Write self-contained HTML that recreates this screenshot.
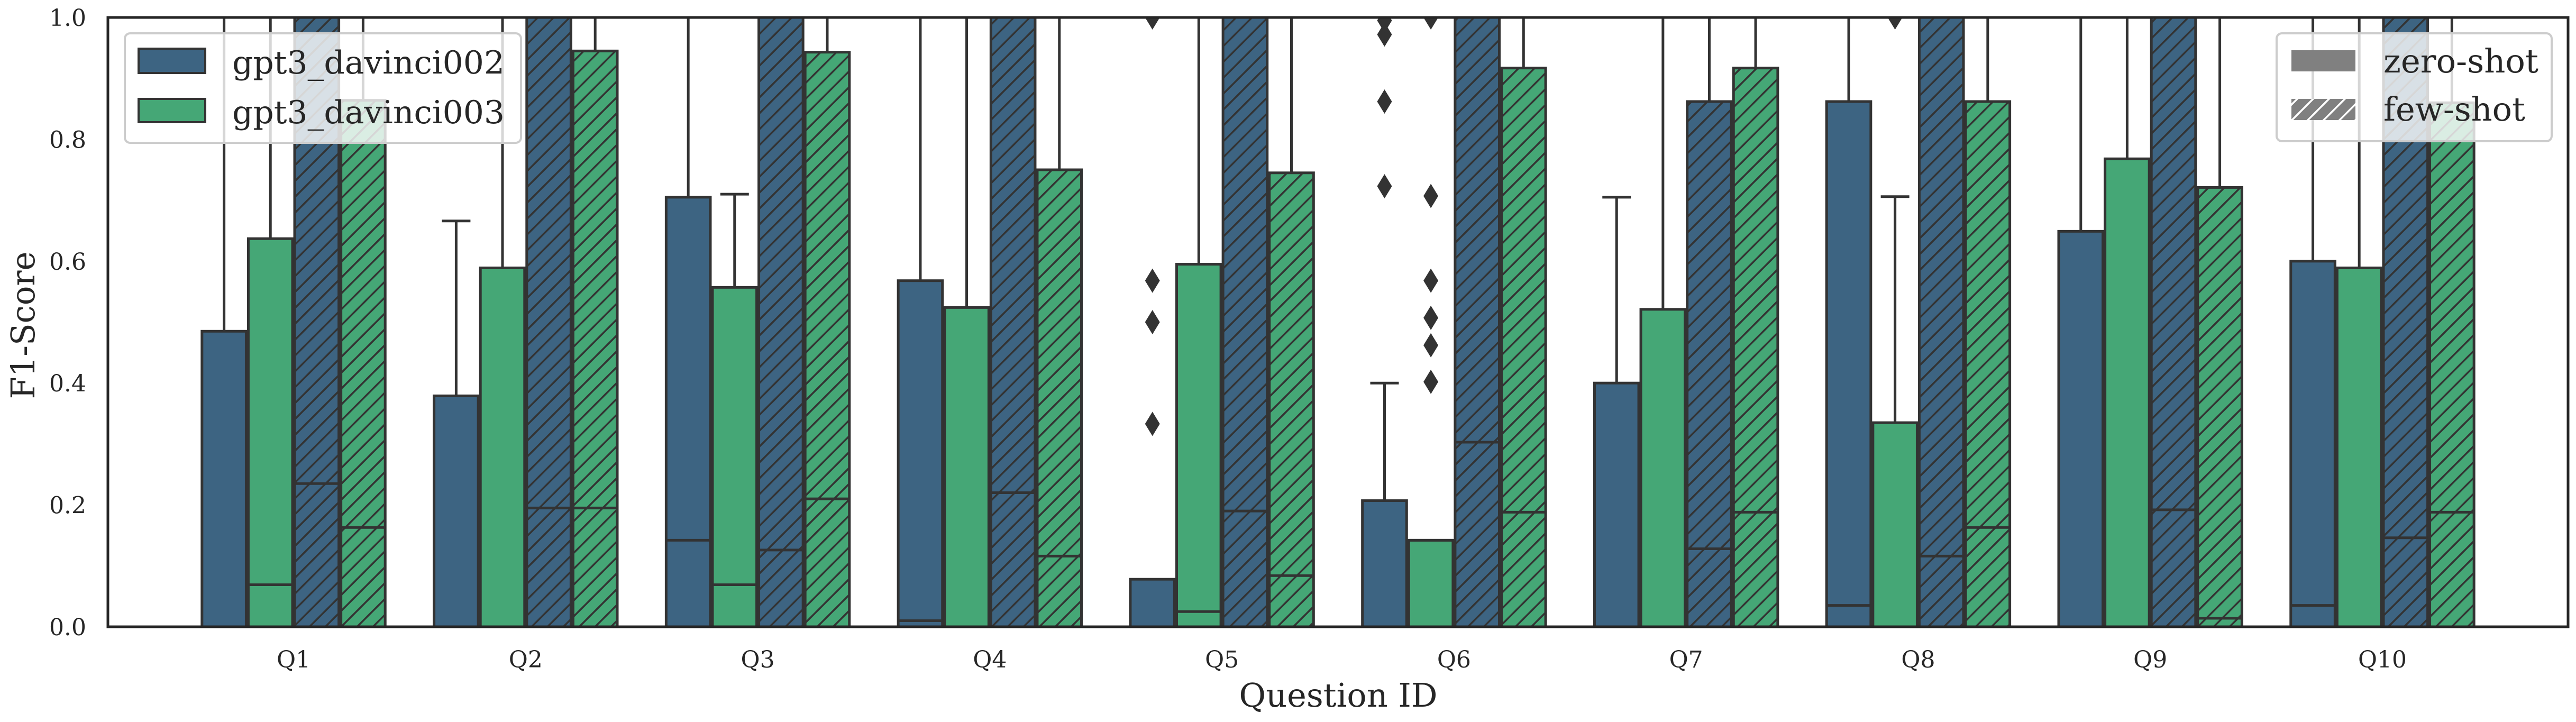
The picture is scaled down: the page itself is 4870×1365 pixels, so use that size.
<!DOCTYPE html>
<html><head><meta charset="utf-8">
<style>
html,body{margin:0;padding:0;background:#fff;}
svg{display:block;}
text{font-family:"DejaVu Serif","Liberation Serif",serif;fill:#262626;}
</style></head>
<body>
<svg id="chart" width="4870" height="1365" viewBox="0 0 4870 1365" xmlns="http://www.w3.org/2000/svg">
<defs>
<pattern id="hatchBlue" patternUnits="userSpaceOnUse" width="30" height="30">
<rect width="30" height="30" fill="#3d6482"/>
<path d="M-5,35 L35,-5 M-5,5 L5,-5 M25,35 L35,25" stroke="#333" stroke-width="3.5"/>
</pattern>
<pattern id="hatchGreen" patternUnits="userSpaceOnUse" width="30" height="30">
<rect width="30" height="30" fill="#45a776"/>
<path d="M-5,35 L35,-5 M-5,5 L5,-5 M25,35 L35,25" stroke="#333" stroke-width="3.5"/>
</pattern>
<pattern id="hatchGray" patternUnits="userSpaceOnUse" width="30" height="30">
<rect width="30" height="30" fill="#808080"/>
<path d="M-5,35 L35,-5 M-5,5 L5,-5 M25,35 L35,25" stroke="#fff" stroke-width="3.5"/>
</pattern>
<clipPath id="plotClip"><rect x="204" y="33" width="4651" height="1152"/></clipPath>
</defs>
<g id="ticks"></g>
<g id="plot" clip-path="url(#plotClip)"></g>
<rect x="204" y="33" width="4651" height="1152" fill="none" stroke="#262626" stroke-width="5"/>
<text x="43" y="615" font-size="62" text-anchor="middle" transform="rotate(-90 43 615) translate(0 22)" textLength="279" lengthAdjust="spacingAndGlyphs">F1-Score</text>
<text x="2530" y="1336" font-size="62" text-anchor="middle">Question ID</text>

<g>
<rect x="236" y="63" width="749" height="207" rx="10" fill="#fff" fill-opacity="0.8" stroke="#cccccc" stroke-width="4"/>
<rect x="262" y="92" width="126" height="46" fill="#3d6482" stroke="#333" stroke-width="4"/>
<text x="439" y="139" font-size="60" textLength="515" lengthAdjust="spacingAndGlyphs">gpt3_davinci002</text>
<rect x="262" y="187" width="126" height="44" fill="#45a776" stroke="#333" stroke-width="4"/>
<text x="439" y="233" font-size="60" textLength="515" lengthAdjust="spacingAndGlyphs">gpt3_davinci003</text>
</g>
<g>
<rect x="4304" y="63" width="520" height="204" rx="10" fill="#fff" fill-opacity="0.8" stroke="#cccccc" stroke-width="4"/>
<rect x="4332" y="95" width="121" height="40" fill="#808080"/>
<text x="4506" y="137" font-size="62" textLength="293" lengthAdjust="spacingAndGlyphs">zero-shot</text>
<rect x="4332" y="187" width="121" height="40" fill="url(#hatchGray)"/>
<text x="4506" y="228" font-size="62" textLength="268" lengthAdjust="spacingAndGlyphs">few-shot</text>
</g>
</svg>
<script>
const categories = ["Q1","Q2","Q3","Q4","Q5","Q6","Q7","Q8","Q9","Q10"];
const seriesNames = ["davinci002-zero-shot","davinci003-zero-shot","davinci002-few-shot","davinci003-few-shot"];
const yTicks = [0.0,0.2,0.4,0.6,0.8,1.0];
const yTickLabels = ["0.0","0.2","0.4","0.6","0.8","1.0"];
const q1Values = [
 [0,0,0,0,0,0,0,0,0,0],
 [0,0,0,0,0,0,0,0,0,0],
 [0,0,0,0,0,0,0,0,0,0],
 [0,0,0,0,0,0,0,0,0,0]];
const q3Values = [
 [0.485,0.379,0.705,0.568,0.078,0.207,0.4,0.862,0.649,0.6],
 [0.637,0.589,0.557,0.524,0.595,0.142,0.521,0.335,0.768,0.589],
 [1,1,1,1,1,1,0.862,1,1,1],
 [0.864,0.945,0.943,0.75,0.745,0.917,0.917,0.862,0.721,0.86]];
const medianValues = [
 [0,0,0.142,0.01,0,0,0,0.035,0,0.035],
 [0.069,0,0.069,0,0.025,0.142,0,0,0,0],
 [0.235,0.195,0.126,0.22,0.19,0.303,0.128,0.116,0.192,0.146],
 [0.163,0.195,0.21,0.116,0.084,0.188,0.188,0.163,0.014,0.188]];
const whiskerHighValues = [
 [1,0.666,1,1,0.078,0.4,0.705,1,1,1],
 [1,1,0.71,1,1,0.142,1,0.706,1,1],
 [1,1,1,1,1,1,1,1,1,1],
 [1,1,1,1,1,1,1,1,1,1]];
const outlierValues = [
 [[],[],[],[],[0.333,0.5,0.568,1.0],[0.723,0.862,0.972,0.995],[],[],[],[]],
 [[],[],[],[],[],[0.402,0.462,0.507,0.568,0.707,1.0],[],[1.0],[],[]],
 [[],[],[],[],[],[],[],[],[],[]],
 [[],[],[],[],[],[],[],[],[],[]]];

const NS = "http://www.w3.org/2000/svg";
const fills = ["#3d6482","#45a776","url(#hatchBlue)","url(#hatchGreen)"];
const X0 = 204, X1 = 4855, Y0 = 33, Y1 = 1185;
const xScale = i => X0 + (i + 0.8) / 10.6 * (X1 - X0);
const yScale = v => Y1 - v * (Y1 - Y0);
const BW = 87.6;
function mk(tag, attrs, parent){ const e=document.createElementNS(NS,tag); for(const k in attrs) e.setAttribute(k,attrs[k]); parent.appendChild(e); return e; }
const plot = document.getElementById("plot");
const ticks = document.getElementById("ticks");

yTicks.forEach((v,i)=>{
  const t = mk("text",{x:163,y:yScale(v)+16,"font-size":44,"text-anchor":"end"},ticks);
  t.textContent = yTickLabels[i];
  
  
});
categories.forEach((c,i)=>{
  const t = mk("text",{x:xScale(i),y:1262,"font-size":44,"text-anchor":"middle"},ticks);
  t.textContent = c;
  
  
});

categories.forEach((c,i)=>{
  for(let s=0;s<4;s++){
    const cx = xScale(i) + (s-1.5)*BW;
    const g = mk("g",{},plot);
    
    
    const q1=q1Values[s][i], q3=q3Values[s][i], med=medianValues[s][i], wh=whiskerHighValues[s][i];
    if(wh>q3){
      mk("line",{x1:cx,x2:cx,y1:yScale(q3),y2:yScale(wh),stroke:"#333","stroke-width":5},g);
      mk("line",{x1:cx-27,x2:cx+27,y1:yScale(wh),y2:yScale(wh),stroke:"#333","stroke-width":5},g);
    }
    mk("rect",{x:cx-BW/2+2,y:yScale(q3),width:BW-4,height:yScale(q1)-yScale(q3),fill:fills[s],stroke:"#333","stroke-width":5},g);
    mk("line",{x1:cx-BW/2+2,x2:cx+BW/2-2,y1:yScale(med),y2:yScale(med),stroke:"#333","stroke-width":5},g);
    outlierValues[s][i].forEach(v=>{
      const y=yScale(v);
      const d = mk("path",{d:`M${cx},${y-23} L${cx+14},${y} L${cx},${y+23} L${cx-14},${y} Z`,fill:"#333"},g);
      
      
    });
  }
});
</script>
</body></html>
